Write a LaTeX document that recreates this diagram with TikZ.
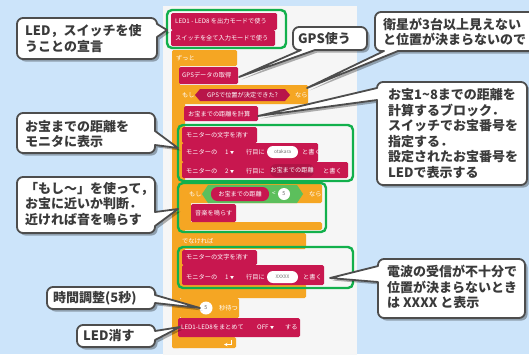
\documentclass[tikz,border=0pt]{standalone}
\usepackage{fontspec}
\newfontfamily\jp{Noto Sans CJK JP}
\definecolor{bgblue}{HTML}{CCE4FA}
\definecolor{panelc}{HTML}{F6F6F6}
\definecolor{blkred}{HTML}{C8174F}
\definecolor{blkorange}{HTML}{F5A623}
\definecolor{grnline}{HTML}{12B04C}
\definecolor{hexgreen}{HTML}{5CBF5C}
\definecolor{cborder}{HTML}{4D4D4D}
\definecolor{ctext}{HTML}{3A3A3A}
\definecolor{pilltext}{HTML}{707070}
\tikzset{
  redblk/.style={fill=blkred, rounded corners=1.5},
  orblk/.style={fill=blkorange, rounded corners=1.5},
  grnbox/.style={draw=grnline, line width=2.4, rounded corners=5},
  btxt/.style={text=white, font=\jp\fontsize{6.2}{7}\selectfont, inner sep=0, anchor=west},
  ptxt/.style={text=pilltext, font=\jp\fontsize{4.8}{6}\selectfont, inner sep=0},
  ctxt/.style={text=ctext, font=\jp\bfseries\fontsize{13}{15.5}\selectfont, align=left, inner sep=0, anchor=west},
  bubblestyle/.style={fill=white, draw=cborder, line width=1.8, line join=round},
  bshadow/.style={fill=black, opacity=0.3, transform canvas={shift={(2.5,2.5)}}},
}
\newcommand\mycallout[1]{\fill[bshadow] #1; \draw[bubblestyle] #1;}
\begin{document}
\begin{tikzpicture}[x=1pt,y=-1pt]
\useasboundingbox (0,0) rectangle (529,354);
\clip (0,0) rectangle (529,354);
\fill[bgblue] (0,0) rectangle (529,354);
\fill[panelc] (163,6) rectangle (357,360);

% ---- setup blocks
\fill[redblk] (171,13) rectangle (277,30);
\fill[redblk] (171,30) rectangle (275,46);
\node[btxt] (b1) at (175,21.5) {LED1 - LED8 を出力モードで使う};
\node[btxt] (b2) at (175,38) {スイッチを全て入力モードで使う};

% ---- forever block
\fill[orblk] (172,50) rectangle (237,66);
\fill[orblk] (172,50) rectangle (180,348);
\fill[orblk] (172,337) rectangle (236,348);
\node[btxt] (zutto) at (176,58) {ずっと};
\draw[white,line width=0.6,->,>=stealth] (231,340) -- (231,344.5) -- (224,344.5);

% GPS data
\fill[redblk] (179,67) rectangle (238,84);
\node[btxt] (gps) at (182,75.5) {GPSデータの取得};

% if-else
\fill[orblk] (178,85) rectangle (308,104);
\fill[orblk] (178,85) rectangle (185,298);
\fill[orblk] (178,233) rectangle (306,249);
\fill[orblk] (178,284) rectangle (306,298);
\node[btxt] (moshi1) at (182,95) {もし};
\fill[blkred!92!black] (195,95) -- (200,89) -- (285,89) -- (290,95) -- (285,101) -- (200,101) -- cycle;
\node[btxt,anchor=center] (cond1) at (242.5,95) {GPSで位置が決定できた?};
\node[btxt] (nara1) at (295,95) {なら};

\fill[redblk] (184,106) rectangle (258,121);
\node[btxt] (calc) at (188,114) {お宝までの距離を計算};

% monitor rows
\fill[redblk] (182,127) rectangle (257,143);
\node[btxt] (m1) at (186,135) {モニターの文字を消す};
\fill[redblk] (182,143) rectangle (318,162);
\node[btxt] (m2a) at (186,152) {モニターの};
\node[btxt] (m2b) at (225,152) {1 {\fontsize{4}{5}\selectfont ▼}};
\node[btxt] (m2c) at (246,152) {行目に};
\fill[white, rounded corners=6] (267,146) rectangle (298,158);
\node[ptxt] (m2d) at (282.5,152) {otakara};
\node[btxt] (m2e) at (302,152) {と書く};
\fill[redblk] (182,162) rectangle (348,178);
\node[btxt] (m3a) at (186,171) {モニターの};
\node[btxt] (m3b) at (225,171) {2 {\fontsize{4}{5}\selectfont ▼}};
\node[btxt] (m3c) at (246,171) {行目に};
\fill[blkred!88!black, rounded corners=6] (270,164) rectangle (314,177);
\node[btxt,anchor=center] (m3d) at (292,170.5) {お宝までの距離};
\node[btxt] (m3e) at (323,171) {と書く};

% inner if
\fill[orblk] (184,184) rectangle (322,203);
\fill[orblk] (184,184) rectangle (191,230);
\fill[orblk] (184,222) rectangle (322,230);
\node[btxt] (moshi2) at (189,194) {もし};
\fill[hexgreen] (202,194) -- (208,185) -- (297,185) -- (303,194) -- (297,203) -- (208,203) -- cycle;
\fill[blkred, rounded corners=6.5] (211,187) rectangle (269,201);
\node[btxt,anchor=center] (dist) at (240,194) {お宝までの距離};
\node[btxt] (lt) at (272,194) {<};
\fill[white] (284,194) circle (6);
\node[ptxt,font=\jp\fontsize{5.5}{6}\selectfont] (five1) at (284,194) {5};
\node[btxt] (nara2) at (309,194) {なら};
\fill[redblk] (191,204) rectangle (236,222);
\node[btxt] (music) at (195,213) {音楽を鳴らす};

% else
\node[btxt] (else) at (182,241) {でなければ};
\fill[redblk] (182,250) rectangle (257,265);
\node[btxt] (m4) at (186,257.5) {モニターの文字を消す};
\fill[redblk] (182,265) rectangle (324,285);
\node[btxt] (m5a) at (186,277) {モニターの};
\node[btxt] (m5b) at (225,277) {1 {\fontsize{4}{5}\selectfont ▼}};
\node[btxt] (m5c) at (246,277) {行目に};
\fill[white, rounded corners=6] (267,271) rectangle (298,283);
\node[ptxt] (m5d) at (282.5,277) {XXXXX};
\node[btxt] (m5e) at (303,277) {と書く};

% wait
\fill[orblk] (180,298) rectangle (239,318);
\fill[white] (206,308) circle (6.5);
\node[ptxt,font=\jp\fontsize{5.5}{6}\selectfont] (five2) at (206,308) {5};
\node[btxt] (wait) at (219,308) {秒待つ};

% LED off
\fill[redblk] (178,318) rectangle (300,337);
\node[btxt] (off1) at (181,327.5) {LED1-LED8をまとめて};
\node[btxt] (off2) at (257,327.5) {OFF {\fontsize{4}{5}\selectfont ▼}};
\node[btxt] (off3) at (285,327.5) {する};

% green frames
\draw[grnbox] (167,10) rectangle (286,48);
\draw[grnbox] (178,125) rectangle (353,181);
\draw[grnbox] (178,183) rectangle (326,232);
\draw[grnbox] (178,247) rectangle (353,288);

% ---- callouts
\coordinate (tipA) at (167,30);
\coordinate (tipB) at (239,77);
\coordinate (tipC) at (307,88);
\coordinate (tipD) at (258,116);
\coordinate (tipE) at (178,148);
\coordinate (tipF) at (178,209);
\coordinate (tipG) at (200,308);
\coordinate (tipH) at (180,327);
\coordinate (tipI) at (330,278);

\mycallout{(87,18) [rounded corners=6] -- (157,18) [sharp corners] -- (157,24) -- (tipA) -- (157,37) [rounded corners=6] -- (157,59) -- (17,59) -- (17,18) -- cycle}
\node[ctxt] (cA) at (25,38.5) {LED，スイッチを使\\うことの宣言};

\mycallout{(330,27) [rounded corners=6] -- (367,27) -- (367,50) [sharp corners] -- (315,50) -- (tipB) -- (301,50) [rounded corners=6] -- (293,50) -- (293,27) -- cycle}
\node[ctxt] (cB) at (298,38.5) {GPS使う};

\mycallout{(460,12) [rounded corners=6] -- (560,12) -- (560,51) [sharp corners] -- (398,51) -- (tipC) -- (384,51) [rounded corners=6] -- (375,51) -- (375,12) -- cycle}
\node[ctxt] (cC) at (383,32) {衛星が3台以上見えない\\と位置が決まらないので};

\mycallout{(450,82) [rounded corners=6] -- (527,82) -- (527,185) -- (377,185) [sharp corners] -- (377,100) -- (tipD) -- (377,88) [rounded corners=6] -- (377,82) -- cycle}
\node[ctxt] (cD) at (388,133.5) {お宝1\textasciitilde 8までの距離を\\計算するブロック．\\スイッチでお宝番号を\\指定する．\\設定されたお宝番号を\\LEDで表示する};

\mycallout{(86,113) [rounded corners=6] -- (155,113) [sharp corners] -- (155,131) -- (tipE) -- (155,145) [rounded corners=6] -- (155,153) -- (17,153) -- (17,113) -- cycle}
\node[ctxt] (cE) at (25,134) {お宝までの距離を\\モニタに表示};

\mycallout{(86,177) [rounded corners=6] -- (155,177) [sharp corners] -- (155,212) -- (tipF) -- (155,226) [rounded corners=6] -- (155,233) -- (17,233) -- (17,177) -- cycle}
\node[ctxt] (cF) at (25,204) {「もし～」を使って，\\お宝に近いか判断．\\近ければ音を鳴らす};

\mycallout{(100,287) [rounded corners=6] -- (155,287) [sharp corners] -- (155,295) -- (tipG) -- (155,303) [rounded corners=6] -- (155,309) -- (47,309) -- (47,287) -- cycle}
\node[ctxt] (cG) at (53,298) {時間調整(5秒)};

\mycallout{(110,325) [rounded corners=6] -- (155,325) [sharp corners] -- (155,331) -- (tipH) -- (155,340) [rounded corners=6] -- (155,347) -- (77,347) -- (77,325) -- cycle}
\node[ctxt] (cH) at (83,336) {LED消す};

\mycallout{(450,259) [rounded corners=6] -- (525,259) -- (525,318) -- (378,318) [sharp corners] -- (378,282) -- (tipI) -- (378,266) [rounded corners=6] -- (378,259) -- cycle}
\node[ctxt] (cI) at (387,287) {電波の受信が不十分で\\位置が決まらないとき\\は XXXX と表示};
\end{tikzpicture}
\end{document}
